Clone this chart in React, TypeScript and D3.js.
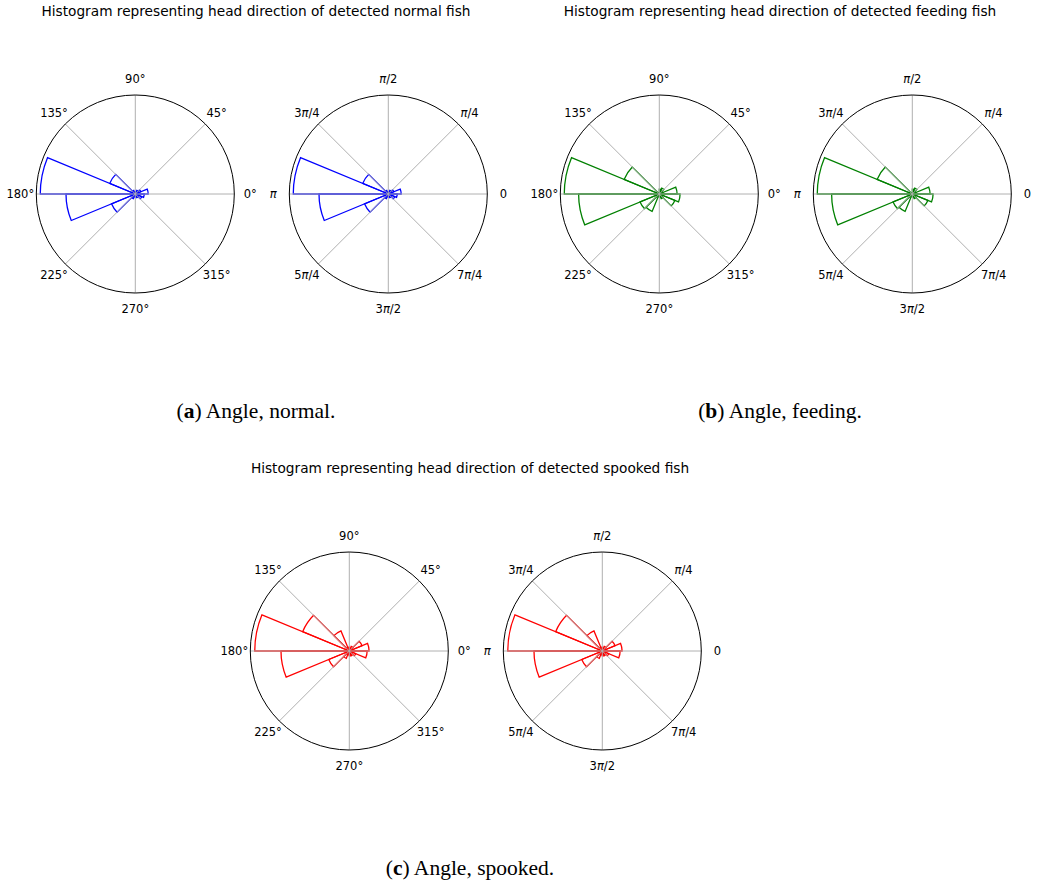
import React from "react";
import * as d3 from "d3";

// Histogram bins: 16 bins of 22.5° (start angle of each bin, degrees, counter-clockwise from east)
const binStartDeg = [0, 22.5, 45, 67.5, 90, 112.5, 135, 157.5, 180, 202.5, 225, 247.5, 270, 292.5, 315, 337.5];
const binWidthDeg = 22.5;

// Relative frequency per bin (radial axis max = 1)
const normalValues = [0.13, 0.06, 0.04, 0.02, 0.02, 0.04, 0.28, 0.96, 0.70, 0.26, 0.05, 0.03, 0.03, 0.04, 0.07, 0.09];
const feedingValues = [0.18, 0.04, 0.065, 0.05, 0.01, 0.01, 0.385, 0.96, 0.815, 0.21, 0.19, 0.03, 0.02, 0.05, 0.17, 0.21];
const spookedValues = [0.20, 0.14, 0.05, 0.03, 0.04, 0.22, 0.51, 0.955, 0.69, 0.225, 0.08, 0.04, 0.05, 0.05, 0.07, 0.18];

const radialMax = 1;

const gridAnglesDeg = [0, 45, 90, 135, 180, 225, 270, 315];
const degreeLabels = ["0°", "45°", "90°", "135°", "180°", "225°", "270°", "315°"];
const radianLabels = ["0", "π/4", "π/2", "3π/4", "π", "5π/4", "3π/2", "7π/4"];

const titles = [
  "Histogram representing head direction of detected normal fish",
  "Histogram representing head direction of detected feeding fish",
  "Histogram representing head direction of detected spooked fish",
];
const captionLetters = ["a", "b", "c"];
const captionTexts = [" Angle, normal.", " Angle, feeding.", " Angle, spooked."];

const R = 99;
const SANS = "'DejaVu Sans', sans-serif";
const SERIF = "'Liberation Serif', 'Times New Roman', serif";

function Label({ text, x, y }: { text: string; x: number; y: number }) {
  const parts = text.split("π");
  return (
    <text x={x} y={y} textAnchor="middle" dominantBaseline="central" fontFamily={SANS} fontSize={11.5} fill="#000">
      {parts.map((p, i) => (
        <React.Fragment key={i}>
          {p && <tspan>{p}</tspan>}
          {i < parts.length - 1 && <tspan fontStyle="italic">π</tspan>}
        </React.Fragment>
      ))}
    </text>
  );
}

function Polar({ cx, cy, values, color, labels }: { cx: number; cy: number; values: number[]; color: string; labels: string[] }) {
  const r = d3.scaleLinear().domain([0, radialMax]).range([0, R]);
  const toRad = (deg: number) => (deg * Math.PI) / 180;
  const arc = d3.arc<any>();
  return (
    <g>
      {values.map((v, i) => {
        const s = binStartDeg[i];
        const e = s + binWidthDeg;
        const d = arc({
          innerRadius: 0,
          outerRadius: r(v),
          startAngle: toRad(90 - e),
          endAngle: toRad(90 - s),
        }) as string;
        return <path key={i} d={d} transform={`translate(${cx},${cy})`} fill="none" stroke={color} strokeWidth={1.3} strokeLinejoin="miter" />;
      })}
      {gridAnglesDeg.map((a, i) => (
        <line
          key={i}
          x1={cx}
          y1={cy}
          x2={cx + R * Math.cos(toRad(a))}
          y2={cy - R * Math.sin(toRad(a))}
          stroke="#b0b0b0"
          strokeWidth={1}
        />
      ))}
      <circle cx={cx} cy={cy} r={R} fill="none" stroke="#000" strokeWidth={1} />
      {gridAnglesDeg.map((a, i) => (
        <Label key={i} text={labels[i]} x={cx + (R + 16) * Math.cos(toRad(a))} y={cy - (R + 16) * Math.sin(toRad(a))} />
      ))}
    </g>
  );
}

function Caption({ x, y, letter, text }: { x: number; y: number; letter: string; text: string }) {
  return (
    <text x={x} y={y} textAnchor="middle" fontFamily={SERIF} fontSize={21.5} fill="#000">
      <tspan>(</tspan>
      <tspan fontWeight="bold">{letter}</tspan>
      <tspan>)</tspan>
      <tspan>{text}</tspan>
    </text>
  );
}

export default function App() {
  const panels = [
    { cx: 135.3, cy: 194, values: normalValues, color: "#0000ff" },
    { cx: 659.3, cy: 194, values: feedingValues, color: "#008000" },
    { cx: 349.3, cy: 651, values: spookedValues, color: "#ff0000" },
  ];
  const titlePos = [
    { x: 256, y: 16 },
    { x: 780, y: 16 },
    { x: 470, y: 473 },
  ];
  const captionPos = [
    { x: 256, y: 418 },
    { x: 780, y: 418 },
    { x: 470, y: 875 },
  ];
  return (
    <svg width={1041} height={881} style={{ position: "absolute", left: 0, top: 0, background: "#fff" }}>
      <rect x={0} y={0} width={1041} height={881} fill="#fff" />
      {panels.map((p, i) => (
        <g key={i}>
          <text x={titlePos[i].x} y={titlePos[i].y} textAnchor="middle" fontFamily={SANS} fontSize={13.7} fill="#000">
            {titles[i]}
          </text>
          <Polar cx={p.cx} cy={p.cy} values={p.values} color={p.color} labels={degreeLabels} />
          <Polar cx={p.cx + 253} cy={p.cy} values={p.values} color={p.color} labels={radianLabels} />
          <Caption x={captionPos[i].x} y={captionPos[i].y} letter={captionLetters[i]} text={captionTexts[i]} />
        </g>
      ))}
    </svg>
  );
}
